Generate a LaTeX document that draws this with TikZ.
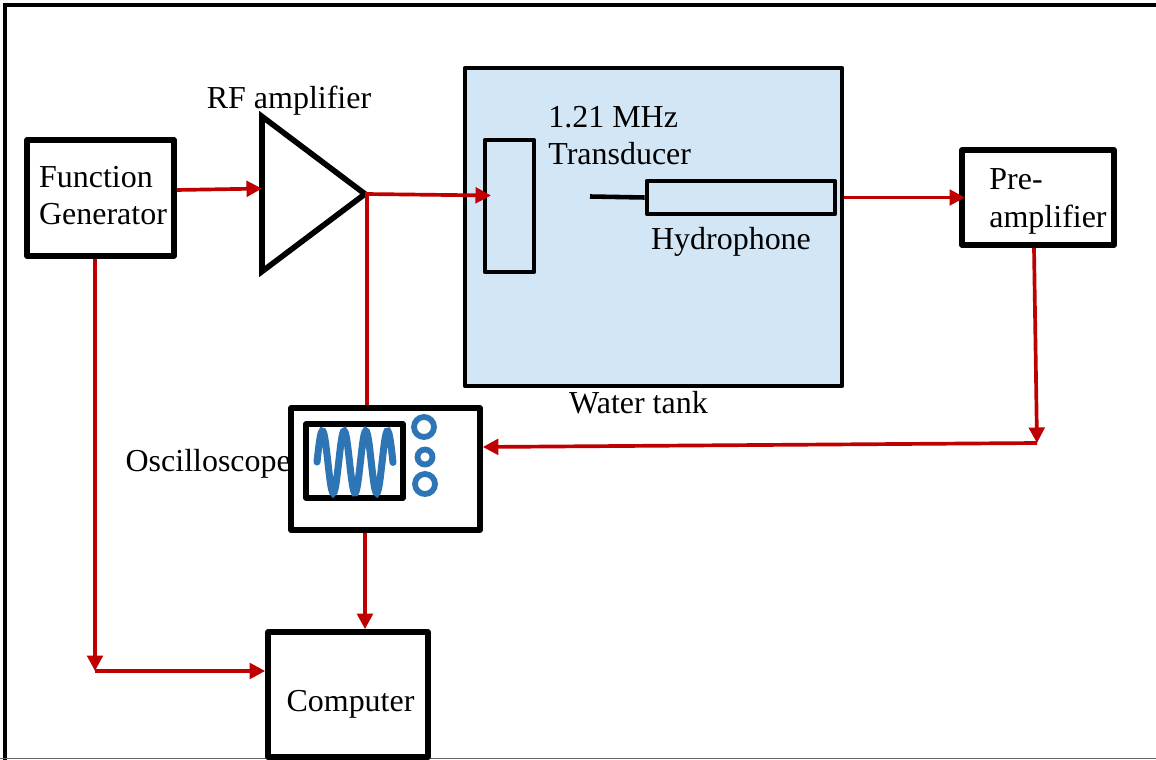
\documentclass[tikz,border=0pt]{standalone}
\usepackage{fontspec}
\setmainfont{Liberation Serif}
\usetikzlibrary{arrows.meta, positioning, shapes.geometric}
\definecolor{wirered}{HTML}{C00000}
\definecolor{tankblue}{HTML}{D2E6F6}
\definecolor{waveblue}{HTML}{2E75B6}
\def\pxu{0.02cm}

\begin{document}
\begin{tikzpicture}[
      x=0.02cm, y=-0.02cm,
      blockbox/.style={
         rectangle,
         draw=black,
         line width=3.2pt,
         line join=round,
         inner sep=0pt,
         font=\fontsize{18.2}{21}\selectfont},
      tankbox/.style={
         blockbox,
         line width=2.7pt,
         fill=tankblue},
      amptri/.style={
         isosceles triangle,
         isosceles triangle stretches,
         draw=black,
         line width=3.2pt,
         outer sep=0pt,
         inner sep=0pt,
         minimum width=155*\pxu,
         minimum height=103*\pxu},
      knob/.style={
         circle,
         draw=waveblue,
         line width=3.3pt,
         inner sep=0pt},
      txtlabel/.style={
         inner sep=0pt,
         align=left,
         font=\fontsize{18.2}{21}\selectfont},
      myarrow/.style={
         draw=wirered,
         line width=2.1pt,
         -{Triangle[length=0.31cm,width=0.31cm]}},
      mywire/.style={
         draw=wirered,
         line width=2.1pt}
      ]
      \useasboundingbox (0,0) rectangle (1156,760);

      % outer frame
      \draw[line width=2.4pt] (1156,5) -- (5,5) -- (5,760);
      \draw[line width=0.8pt,black!60] (0,758.5) -- (1156,758.5);

      \node[blockbox,minimum width=147*\pxu,minimum height=116*\pxu,align=left] (fg) at (100.5,198) {\hspace*{0.1cm}Function\\\hspace*{0.1cm}Generator\rule[-2.5pt]{0pt}{1pt}};
      \node[amptri,anchor=apex] (amp) at (365,194) {};
      \node[tankbox,minimum width=377*\pxu,minimum height=318*\pxu] (tank) at (653.5,227) {};
      \node[tankbox,minimum width=49*\pxu,minimum height=132*\pxu] (trans) at (509.5,206) {};
      \node[tankbox,minimum width=188*\pxu,minimum height=33*\pxu] (hydro) at (741,197.5) {};
      \node[blockbox,minimum width=152*\pxu,minimum height=95*\pxu,align=left] (pre) at (1038,197.5) {\hspace*{0.4cm}\rule{0pt}{16pt}Pre-\\[0.02cm]\hspace*{0.4cm}amplifier};
      \node[blockbox,minimum width=189*\pxu,minimum height=122*\pxu] (scope) at (385.5,469) {};
      \node[blockbox,minimum width=97*\pxu,minimum height=74*\pxu,line width=3pt] (screen) at (354.5,461) {};
      \node[blockbox,minimum width=160*\pxu,minimum height=125*\pxu] (comp) at (348,694.5) {\raisebox{-0.33cm}[0pt][0pt]{\hspace*{0.1cm}Computer}};

      \node[knob,minimum size=20*\pxu] (k1) at (424,427) {};
      \node[knob,minimum size=15*\pxu] (k2) at (425,457) {};
      \node[knob,minimum size=20*\pxu] (k3) at (425,484) {};

      \node[txtlabel] (amplbl) at (289,100.5) {RF amplifier};
      \node[txtlabel,anchor=west] (translbl) at (548,136) {1.21 MHz\\Transducer};
      \node[txtlabel,below=0.22cm of hydro,xshift=-0.2cm] (hydrolbl) {Hydrophone};
      \node[txtlabel,below=0.06cm of tank,xshift=-0.3cm] (tanklbl) {Water tank};
      \node[txtlabel,left=-0.06cm of scope,yshift=0.1cm] (scopelbl) {Oscilloscope};

      % probe stem and trace
      \coordinate (stem) at (590,196.5);
      \draw[line width=2.6pt] (stem) -- (hydro.west);
      \draw[waveblue,line width=4pt,line cap=round,smooth,samples=90,domain=0:76]
         plot ({317+\x},{462-31*sin(\x/21.7*360)});

      \coordinate (txin) at (491,195.5);
      \coordinate (prein) at (965,197.5);
      \coordinate (branch) at (367,195.5);
      \coordinate (elbowa) at (95,671);
      \coordinate (elbowb) at (1037,443);
      \coordinate (compin) at ([xshift=17*\pxu]comp.north);
      % straight drops: one end is lined up on the other
      \coordinate (tankout) at (tank.east |- prein);
      \coordinate (scopetop) at (branch |- scope.north);
      \coordinate (scopeout) at (compin |- scope.south);
      \coordinate (fgout) at (elbowa |- fg.south);
      \coordinate (compwest) at (comp.west |- elbowa);
      \coordinate (preout) at ([xshift=-4*\pxu]pre.south);
      \coordinate (scopein) at ([yshift=22*\pxu]scope.east);

      \draw[mywire] (branch) -- (scopetop);
    \foreach \i/\j in {%
      fg.6/amp.172,
      amp.apex/txin,
      tankout/prein,
      preout/elbowb,
      elbowb/scopein,
      scopeout/compin,
      fgout/elbowa,
      elbowa/compwest}
       \draw [myarrow] (\i) -- (\j);
\end{tikzpicture}
\end{document}
